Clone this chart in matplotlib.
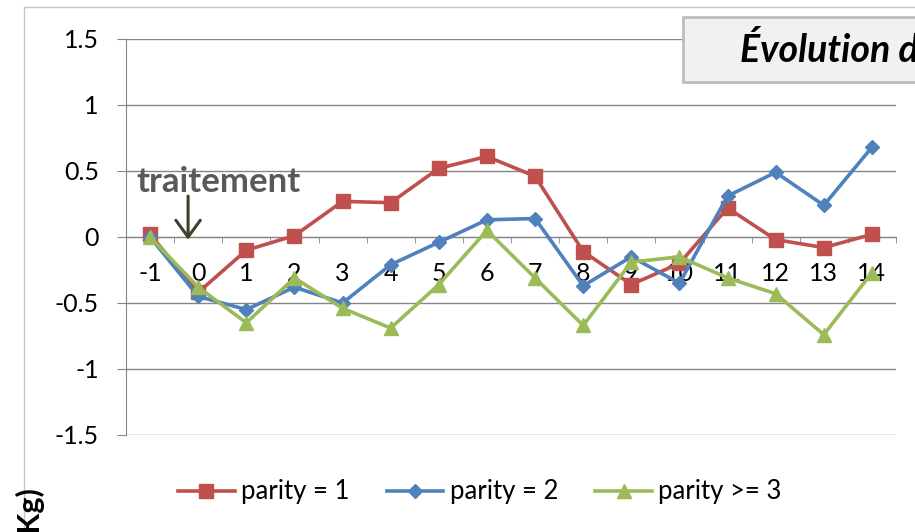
import numpy as np
import matplotlib
matplotlib.use("Agg")
import matplotlib.pyplot as plt
from matplotlib.patches import Rectangle
from matplotlib.lines import Line2D

plt.rcParams['font.family'] = ['Lato', 'DejaVu Sans']

# weeks relative to treatment
weeks = [-1, 0, 1, 2, 3, 4, 5, 6, 7, 8, 9, 10, 11, 12, 13, 14]
parity1 = [0.02, -0.42, -0.10, 0.01, 0.27, 0.26, 0.52, 0.61, 0.46, -0.11,
           -0.36, -0.20, 0.22, -0.02, -0.08, 0.02]
parity2 = [0.00, -0.45, -0.55, -0.38, -0.50, -0.21, -0.04, 0.13, 0.14, -0.37,
           -0.15, -0.35, 0.31, 0.49, 0.24, 0.68]
parity3 = [0.00, -0.38, -0.65, -0.31, -0.54, -0.69, -0.36, 0.05, -0.31, -0.67,
           -0.19, -0.15, -0.31, -0.43, -0.74, -0.27]
series_names = ['parity = 1', 'parity = 2', 'parity >= 3']

W, H = 915, 532
fig = plt.figure(figsize=(W / 100, H / 100), dpi=100)
ax = fig.add_axes([126 / W, (H - 435) / H, (896 - 126) / W, (435 - 39) / H])

x = np.arange(len(weeks))
grid_c = '#868686'

ax.plot(x, parity1, color='#C0504D', lw=2.6, marker='s', ms=9.5, label=series_names[0], zorder=3)
ax.plot(x, parity2, color='#4F81BD', lw=2.6, marker='D', ms=7.5, label=series_names[1], zorder=3)
ax.plot(x, parity3, color='#9BBB59', lw=2.6, marker='^', ms=10.5, label=series_names[2], zorder=3)

ax.set_xlim(-0.5, len(weeks) - 0.5)
ax.set_ylim(-1.5, 1.5)
ax.set_yticks([-1.5, -1, -0.5, 0, 0.5, 1, 1.5])
ax.set_yticklabels(['-1.5', '-1', '-0.5', '0', '0.5', '1', '1.5'])
ax.grid(axis='y', color=grid_c, lw=1)
ax.set_axisbelow(True)

for s in ['top', 'right']:
    ax.spines[s].set_visible(False)
ax.spines['left'].set_color(grid_c)
ax.spines['bottom'].set_color(grid_c)
ax.spines['bottom'].set_position(('data', 0))

ax.set_xticks(x)
ax.set_xticklabels([str(w) for w in weeks])
ax.set_xticks(np.arange(len(weeks) + 1) - 0.5, minor=True)
ax.tick_params(axis='x', which='major', length=0, pad=18, labelsize=18)
ax.tick_params(axis='x', which='minor', length=4.5, color=grid_c, direction='out')
ax.tick_params(axis='y', length=6.5, color=grid_c, pad=13, labelsize=18)

# treatment marker
ax.annotate('', xy=(0.79, -0.02), xytext=(0.79, 0.31),
            arrowprops=dict(arrowstyle='->, head_length=0.55, head_width=0.4',
                            color='#3f3f2a', lw=2.2, mutation_scale=22,
                            shrinkA=0, shrinkB=0))
ax.text(-0.29, 0.34, 'traitement', fontsize=25, fontweight='bold',
        color='#595959', ha='left', va='baseline')

fig.legend(loc='center', bbox_to_anchor=(480 / W, 1 - 492 / H), ncol=3,
           frameon=False, fontsize=18.5, handlelength=2.2, columnspacing=1.45,
           handletextpad=0.25)

# chart border lines
fig.add_artist(Line2D([24 / W, 1], [1 - 7 / H, 1 - 7 / H], color='#c6c6c6', lw=1))
fig.add_artist(Line2D([24 / W, 24 / W], [0, 1 - 7 / H], color='#c6c6c6', lw=1))

# title box (cut off on the right)
fig.add_artist(Rectangle((683 / W, 1 - 82 / H), 0.5, 65 / H, transform=fig.transFigure,
                         facecolor='#f1f1f1', edgecolor='#bdbdbd', lw=2, zorder=5))
fig.text(740 / W, 1 - 62 / H, 'Évolution de la perte de poids', fontsize=27,
         fontweight='bold', fontstyle='italic', ha='left', va='baseline', zorder=6)

fig.text(29 / W, 1 - 486 / H, '(Kg)', rotation=90, fontsize=22, fontweight='bold',
         ha='center', va='top')

fig.savefig('out.png', dpi=100)
